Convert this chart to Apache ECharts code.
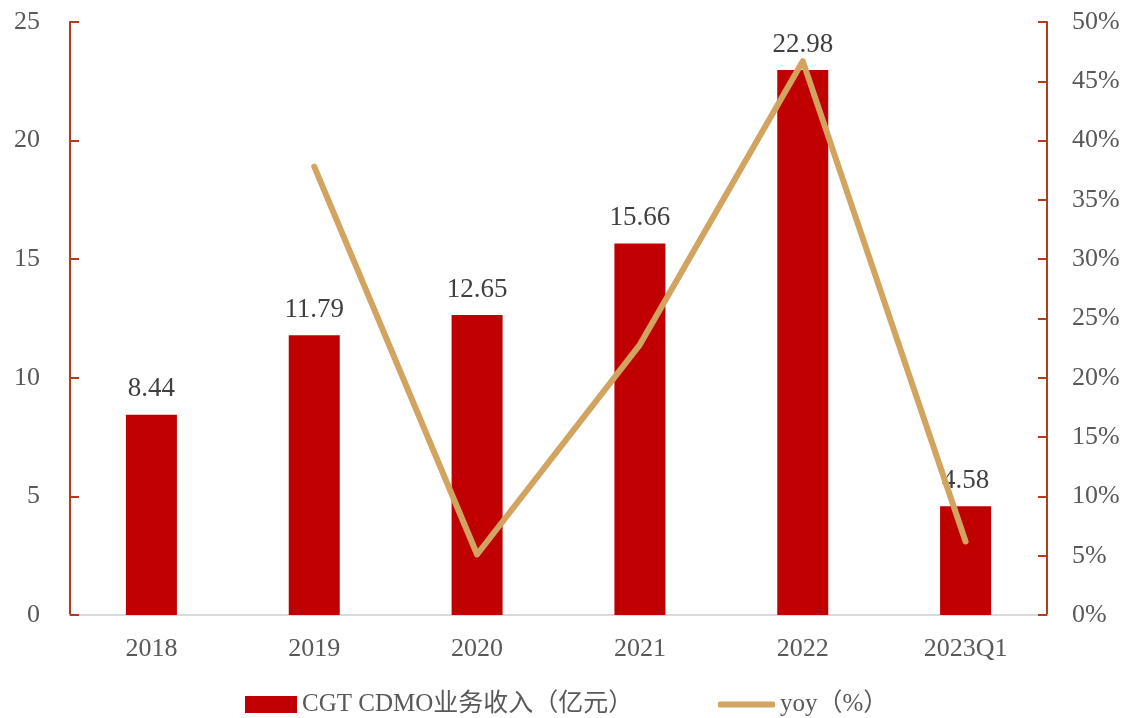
<!DOCTYPE html>
<html>
<head>
<meta charset="utf-8">
<script src="https://cdn.jsdelivr.net/npm/echarts@6/dist/echarts.min.js"></script>
<style>
  html, body { margin: 0; padding: 0; background: #fff; }
  #main { width: 1127px; height: 718px; }
</style>
</head>
<body>
<div id="main"></div>
<script>
const categories = ['2018', '2019', '2020', '2021', '2022', '2023Q1']
const revenue = [8.44, 11.79, 12.65, 15.66, 22.98, 4.58]
const yoy = [null, 37.8, 5.1, 22.8, 46.7, 6.2]
const revenueName = 'CGT CDMO业务收入（亿元）'
const yoyName = 'yoy（%）'

const serif = '"Liberation Serif", "Times New Roman", "Noto Sans CJK SC", serif'
const axisRed = '#B83A1E'
const legendText = { fontFamily: serif, fontSize: 25, color: '#595959' }

const chart = echarts.init(document.getElementById('main'))
const option = {
  backgroundColor: '#fff',
  animation: false,
  grid: { left: 70, right: 80, top: 22, bottom: 103 },
  legend: [
    {
      left: 245,
      bottom: 1,
      padding: 0,
      itemWidth: 52,
      itemHeight: 17,
      textStyle: legendText,
      data: [{ name: revenueName, icon: 'rect' }]
    },
    {
      left: 718,
      bottom: 1,
      padding: 0,
      itemWidth: 57,
      itemHeight: 6,
      textStyle: legendText,
      data: [{ name: yoyName, icon: 'roundRect' }]
    }
  ],
  xAxis: {
    type: 'category',
    data: categories,
    axisLine: { lineStyle: { color: '#D9D9D9', width: 2 } },
    axisTick: { show: false },
    axisLabel: { fontFamily: serif, fontSize: 26, color: '#595959', margin: 21 }
  },
  yAxis: [
    {
      type: 'value',
      min: 0,
      max: 25,
      interval: 5,
      splitLine: { show: false },
      axisLine: { show: true, lineStyle: { color: axisRed, width: 2 } },
      axisTick: { show: true, inside: true, length: 9, lineStyle: { color: axisRed, width: 2 } },
      axisLabel: { fontFamily: serif, fontSize: 26, color: '#595959', margin: 30 }
    },
    {
      type: 'value',
      min: 0,
      max: 50,
      interval: 5,
      splitLine: { show: false },
      axisLine: { show: true, lineStyle: { color: axisRed, width: 2 } },
      axisTick: { show: true, inside: true, length: 9, lineStyle: { color: axisRed, width: 2 } },
      axisLabel: { fontFamily: serif, fontSize: 26, color: '#595959', margin: 25, formatter: '{value}%' }
    }
  ],
  series: [
    {
      name: revenueName,
      type: 'bar',
      data: revenue,
      barWidth: 51,
      itemStyle: { color: '#C00000' },
      label: {
        show: true,
        position: 'top',
        distance: 12,
        fontFamily: serif,
        fontSize: 27,
        color: '#404040',
        formatter: (p) => p.value.toFixed(2)
      }
    },
    {
      name: yoyName,
      type: 'line',
      yAxisIndex: 1,
      data: yoy,
      symbol: 'none',
      lineStyle: { color: '#D2A460', width: 6, cap: 'round', join: 'round' },
      itemStyle: { color: '#D2A460' }
    }
  ]
}
chart.setOption(option)
</script>
</body>
</html>
